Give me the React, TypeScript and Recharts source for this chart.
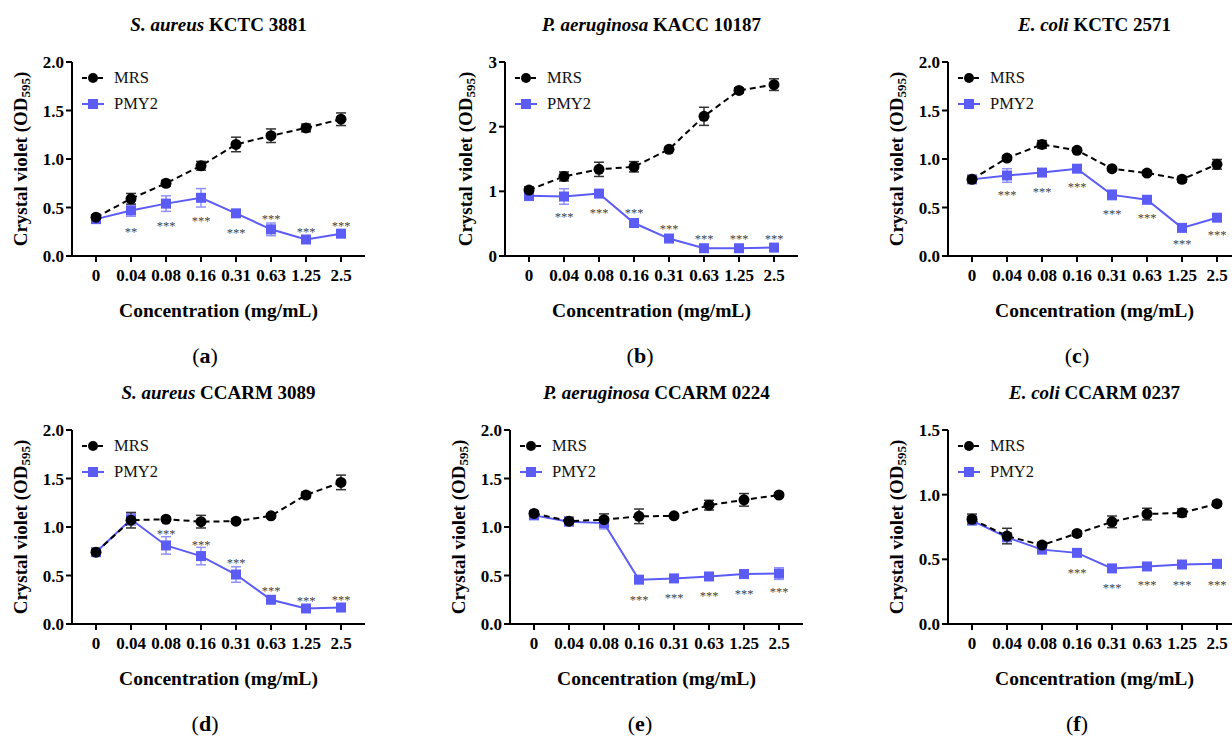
import React from 'react';
import { LineChart, Line, XAxis, YAxis, ErrorBar } from 'recharts';

const SERIF = '"Liberation Serif", "Times New Roman", serif';
const VIOLET = '#5b5cf6';
const VIOLET_ERR = '#8f90f8';

const concentrations = ['0', '0.04', '0.08', '0.16', '0.31', '0.63', '1.25', '2.5'];

// (a) S. aureus KCTC 3881
const mrsA = [0.4, 0.59, 0.75, 0.93, 1.15, 1.24, 1.32, 1.41];
const mrsErrA = [0.02, 0.055, 0.03, 0.045, 0.075, 0.07, 0.04, 0.065];
const pmyA = [0.38, 0.47, 0.54, 0.6, 0.44, 0.275, 0.17, 0.23];
const pmyErrA = [0.02, 0.06, 0.08, 0.095, 0.03, 0.065, 0.03, 0.03];
const sigA = ['', '**', '***', '***', '***', '***', '***', '***'];
const sigPosA = [null, 0.27, 0.33, 0.38, 0.26, 0.4, 0.27, 0.33];

// (b) P. aeruginosa KACC 10187
const mrsB = [1.02, 1.23, 1.34, 1.38, 1.65, 2.16, 2.56, 2.65];
const mrsErrB = [0.05, 0.07, 0.11, 0.08, 0.03, 0.14, 0.04, 0.09];
const pmyB = [0.93, 0.92, 0.965, 0.51, 0.27, 0.12, 0.12, 0.13];
const pmyErrB = [0.07, 0.12, 0.03, 0.05, 0.05, 0.03, 0.03, 0.03];
const sigB = ['', '***', '***', '***', '***', '***', '***', '***'];
const sigPosB = [null, 0.64, 0.7, 0.7, 0.45, 0.29, 0.29, 0.29];

// (c) E. coli KCTC 2571
const mrsC = [0.79, 1.01, 1.15, 1.09, 0.9, 0.855, 0.79, 0.945];
const mrsErrC = [0.02, 0.02, 0.04, 0.02, 0.02, 0.02, 0.03, 0.05];
const pmyC = [0.79, 0.83, 0.86, 0.9, 0.63, 0.58, 0.29, 0.395];
const pmyErrC = [0.02, 0.07, 0.02, 0.02, 0.05, 0.04, 0.02, 0.02];
const sigC = ['', '***', '***', '***', '***', '***', '***', '***'];
const sigPosC = [null, 0.65, 0.68, 0.73, 0.45, 0.41, 0.14, 0.24];

// (d) S. aureus CCARM 3089
const mrsD = [0.74, 1.07, 1.08, 1.055, 1.06, 1.115, 1.33, 1.46];
const mrsErrD = [0.03, 0.08, 0.02, 0.065, 0.02, 0.02, 0.03, 0.075];
const pmyD = [0.74, 1.08, 0.81, 0.7, 0.51, 0.25, 0.16, 0.17];
const pmyErrD = [0.03, 0.06, 0.09, 0.09, 0.08, 0.02, 0.02, 0.02];
const sigD = ['', '', '***', '***', '***', '***', '***', '***'];
const sigPosD = [null, null, 0.945, 0.84, 0.645, 0.36, 0.255, 0.27];

// (e) P. aeruginosa CCARM 0224
const mrsE = [1.14, 1.06, 1.075, 1.11, 1.115, 1.225, 1.28, 1.33];
const mrsErrE = [0.02, 0.04, 0.06, 0.075, 0.02, 0.05, 0.065, 0.02];
const pmyE = [1.12, 1.055, 1.04, 0.457, 0.47, 0.49, 0.515, 0.52];
const pmyErrE = [0.02, 0.02, 0.06, 0.02, 0.02, 0.02, 0.02, 0.06];
const sigE = ['', '', '', '***', '***', '***', '***', '***'];
const sigPosE = [null, null, null, 0.265, 0.285, 0.31, 0.33, 0.355];

// (f) E. coli CCARM 0237
const mrsF = [0.81, 0.68, 0.61, 0.7, 0.79, 0.85, 0.86, 0.93];
const mrsErrF = [0.04, 0.06, 0.02, 0.02, 0.045, 0.045, 0.03, 0.02];
const pmyF = [0.8, 0.67, 0.575, 0.55, 0.43, 0.445, 0.46, 0.465];
const pmyErrF = [0.02, 0.02, 0.02, 0.02, 0.02, 0.02, 0.02, 0.02];
const sigF = ['', '', '', '***', '***', '***', '***', '***'];
const sigPosF = [null, null, null, 0.41, 0.29, 0.32, 0.32, 0.32];

const ticks20 = [0, 0.5, 1, 1.5, 2];
const ticks30 = [0, 1, 2, 3];
const ticks15 = [0, 0.5, 1, 1.5];

const build = (mrs: number[], mrsErr: number[], pmy: number[], pmyErr: number[], sig: string[], sigPos: (number | null)[]) =>
  concentrations.map((c, i) => ({ c, mrs: mrs[i], mrsErr: mrsErr[i], pmy: pmy[i], pmyErr: pmyErr[i], sig: sig[i], sigPos: sigPos[i] }));

const panels = [
  { key: 'a', left: 0, top: 0, yW: 72, gap: 52, italic: 'S. aureus', rest: ' KCTC 3881', letterX: 205, yMax: 2, ticks: ticks20, dec: 1, data: build(mrsA, mrsErrA, pmyA, pmyErrA, sigA, sigPosA) },
  { key: 'b', left: 410, top: 0, yW: 95, gap: 40, italic: 'P. aeruginosa', rest: ' KACC 10187', letterX: 640, yMax: 3, ticks: ticks30, dec: 0, data: build(mrsB, mrsErrB, pmyB, pmyErrB, sigB, sigPosB) },
  { key: 'c', left: 820, top: 0, yW: 128, gap: 52, italic: 'E. coli', rest: ' KCTC 2571', letterX: 1077, yMax: 2, ticks: ticks20, dec: 1, data: build(mrsC, mrsErrC, pmyC, pmyErrC, sigC, sigPosC) },
  { key: 'd', left: 0, top: 368, yW: 72, gap: 52, italic: 'S. aureus', rest: ' CCARM 3089', letterX: 205, yMax: 2, ticks: ticks20, dec: 1, data: build(mrsD, mrsErrD, pmyD, pmyErrD, sigD, sigPosD) },
  { key: 'e', left: 410, top: 368, yW: 100, gap: 52, italic: 'P. aeruginosa', rest: ' CCARM 0224', letterX: 640, yMax: 2, ticks: ticks20, dec: 1, data: build(mrsE, mrsErrE, pmyE, pmyErrE, sigE, sigPosE) },
  { key: 'f', left: 820, top: 368, yW: 128, gap: 52, italic: 'E. coli', rest: ' CCARM 0237', letterX: 1077, yMax: 1.5, ticks: ticks15, dec: 1, data: build(mrsF, mrsErrF, pmyF, pmyErrF, sigF, sigPosF) },
];

const PLOT_W = 293;
const PLOT_TOP = 62;
const PLOT_H = 194;
const X_AXIS_H = 70;

const YLabel = ({ viewBox, gap }: any) => {
  const x = viewBox.x + viewBox.width - gap;
  const y = viewBox.y + viewBox.height / 2;
  return (
    <text x={x} y={y} transform={`rotate(-90, ${x}, ${y})`} textAnchor="middle" dominantBaseline="central"
      fontFamily={SERIF} fontWeight="bold" fontSize={19} fill="#000">
      Crystal violet (OD<tspan fontSize={13} dy={5}>595</tspan><tspan dy={-5}>)</tspan>
    </text>
  );
};

const XLabel = ({ viewBox }: any) => (
  <text x={viewBox.x + viewBox.width / 2} y={viewBox.y + 54} textAnchor="middle" dominantBaseline="central"
    fontFamily={SERIF} fontWeight="bold" fontSize={19.5} fill="#000">
    Concentration (mg/mL)
  </text>
);

const SquareDot = (props: any) => {
  const { cx, cy, index } = props;
  if (cx == null || cy == null) return <g key={`q${index}`} />;
  return <rect key={`q${index}`} x={cx - 5} y={cy - 5} width={10} height={10} fill={VIOLET} />;
};

const CircleDot = (props: any) => {
  const { cx, cy, index } = props;
  if (cx == null || cy == null) return <g key={`o${index}`} />;
  return <circle key={`o${index}`} cx={cx} cy={cy} r={5.5} fill="#000" />;
};

const StarDot = (props: any) => {
  const { cx, cy, payload, index } = props;
  if (!payload || !payload.sig || cy == null) return <g key={`s${index}`} />;
  return (
    <text key={`s${index}`} x={cx} y={cy + 6} textAnchor="middle" fontFamily={SERIF} fontSize={12.5} fill="#444">
      {payload.sig}
    </text>
  );
};

const LegendBox = ({ left, top }: { left: number; top: number }) => (
  <div style={{ position: 'absolute', left, top, fontFamily: SERIF, fontSize: 16.5, color: '#111' }}>
    <div style={{ display: 'flex', alignItems: 'center', height: 26 }}>
      <svg width={22} height={12}>
        <line x1={0} y1={6} x2={22} y2={6} stroke="#000" strokeWidth={2} strokeDasharray="5 3" />
        <circle cx={11} cy={6} r={5} fill="#000" />
      </svg>
      <span style={{ marginLeft: 10 }}>MRS</span>
    </div>
    <div style={{ display: 'flex', alignItems: 'center', height: 26 }}>
      <svg width={22} height={12}>
        <line x1={0} y1={6} x2={22} y2={6} stroke={VIOLET} strokeWidth={2} />
        <rect x={6} y={1} width={10} height={10} fill={VIOLET} />
      </svg>
      <span style={{ marginLeft: 10 }}>PMY2</span>
    </div>
  </div>
);

function Panel({ p }: { p: (typeof panels)[number] }) {
  const width = p.yW + PLOT_W + 2;
  const height = PLOT_TOP + PLOT_H + X_AXIS_H;
  const tickStyle = { fontFamily: SERIF, fontWeight: 'bold' as const, fontSize: 17, fill: '#000' };
  return (
    <>
      <div style={{ position: 'absolute', left: p.left + p.yW, top: p.top + 13, width: PLOT_W, textAlign: 'center',
        fontFamily: SERIF, fontWeight: 'bold', fontSize: 19, lineHeight: '24px', whiteSpace: 'nowrap' }}>
        <i>{p.italic}</i>{p.rest}
      </div>
      <div style={{ position: 'absolute', left: p.left, top: p.top }}>
        <LineChart width={width} height={height} data={p.data} margin={{ top: PLOT_TOP, right: 2, left: 0, bottom: 0 }}>
          <XAxis dataKey="c" padding={{ left: 24, right: 24 }} height={X_AXIS_H} tick={tickStyle}
            tickSize={6} tickMargin={7} axisLine={{ stroke: '#000', strokeWidth: 2 }} tickLine={{ stroke: '#000', strokeWidth: 2 }}
            interval={0} label={<XLabel />} />
          <YAxis type="number" domain={[0, p.yMax]} ticks={p.ticks} width={p.yW} tick={tickStyle}
            tickFormatter={(v: number) => v.toFixed(p.dec)} tickSize={6} tickMargin={2}
            axisLine={{ stroke: '#000', strokeWidth: 2 }} tickLine={{ stroke: '#000', strokeWidth: 2 }}
            label={<YLabel gap={p.gap} />} />
          <Line dataKey="pmy" stroke={VIOLET} strokeWidth={2} dot={SquareDot} activeDot={false} isAnimationActive={false}>
            <ErrorBar dataKey="pmyErr" direction="y" width={5} stroke={VIOLET_ERR} strokeWidth={1.5} />
          </Line>
          <Line dataKey="mrs" stroke="#000" strokeWidth={2} strokeDasharray="6 4" dot={CircleDot} activeDot={false} isAnimationActive={false}>
            <ErrorBar dataKey="mrsErr" direction="y" width={5} stroke="#333" strokeWidth={1.5} />
          </Line>
          <Line dataKey="sigPos" stroke="none" dot={StarDot} activeDot={false} legendType="none" isAnimationActive={false} />
        </LineChart>
      </div>
      <LegendBox left={p.left + p.yW + 10} top={p.top + PLOT_TOP + 3} />
      <div style={{ position: 'absolute', left: p.letterX - 30, top: p.top + 343, width: 60, textAlign: 'center',
        fontFamily: SERIF, fontSize: 22, lineHeight: '26px' }}>
        (<b>{p.key}</b>)
      </div>
    </>
  );
}

export default function App() {
  return (
    <div style={{ position: 'absolute', left: 0, top: 0, width: 1232, height: 737, overflow: 'hidden', background: '#fff' }}>
      {panels.map(p => <Panel key={p.key} p={p} />)}
    </div>
  );
}
